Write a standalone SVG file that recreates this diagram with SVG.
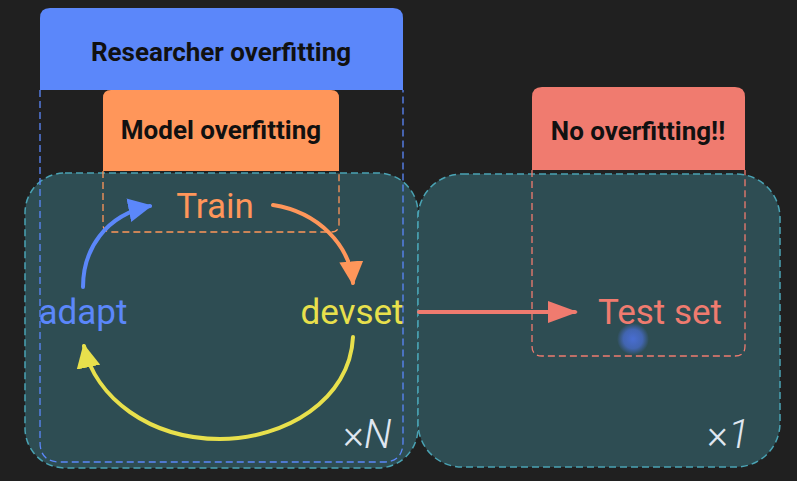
<svg xmlns="http://www.w3.org/2000/svg" width="797" height="481" viewBox="0 0 797 481">
<defs>
<style>
.hdr{font-family:Roboto,"Liberation Sans",sans-serif;font-weight:bold;font-size:26px;fill:#111;text-anchor:middle}
.lbl{font-family:Roboto,"Liberation Sans",sans-serif;font-size:35px;text-anchor:middle}
.mult{font-family:Roboto,"Liberation Sans",sans-serif;font-size:40px;font-weight:300;fill:#dfe6f0}
.zone{fill:#2e4d53;stroke:#4aa3b4;stroke-width:1.5;stroke-dasharray:7 4}
.arc{fill:none;stroke-width:4;stroke-linecap:round}
</style>
<marker id="mBlue" viewBox="0 0 10 10" refX="9" refY="5" markerWidth="6" markerHeight="6" markerUnits="strokeWidth" orient="auto"><path d="M0,0 L10,5 L0,10 Z" fill="#5b87fa"/></marker>
<marker id="mOrange" viewBox="0 0 10 10" refX="9" refY="5" markerWidth="6" markerHeight="6" markerUnits="strokeWidth" orient="auto"><path d="M0,0 L10,5 L0,10 Z" fill="#ff965a"/></marker>
<marker id="mYellow" viewBox="0 0 10 10" refX="9" refY="5" markerWidth="6" markerHeight="6" markerUnits="strokeWidth" orient="auto"><path d="M0,0 L10,5 L0,10 Z" fill="#e8e04c"/></marker>
<marker id="mRed" viewBox="0 0 10 10" refX="9" refY="5" markerWidth="7.5" markerHeight="5.5" markerUnits="strokeWidth" orient="auto" preserveAspectRatio="none"><path d="M0,0 L10,5 L0,10 Z" fill="#f07b6f"/></marker>
<radialGradient id="glow"><stop offset="0" stop-color="#4a6fd8" stop-opacity="0.95"/><stop offset="0.6" stop-color="#4a6fd8" stop-opacity="0.7"/><stop offset="1" stop-color="#4a6fd8" stop-opacity="0"/></radialGradient>
</defs>
<rect width="797" height="481" fill="#202020"/>

<g id="loop-zone"><rect class="zone" x="25" y="173" width="393" height="295" rx="40"/></g>
<g id="test-zone"><rect class="zone" x="418" y="174" width="362" height="293" rx="44"/></g>

<g id="researcher-overfitting">
<path d="M40,90 V442 Q40,462 60,462 H383 Q403,462 403,442 V90" fill="none" stroke="#5b87fa" stroke-width="1.3" stroke-dasharray="7 4"/>
<path d="M40,90 V18 Q40,8 50,8 H393 Q403,8 403,18 V90 Z" fill="#5b87fa"/>
<text class="hdr" x="221" y="61">Researcher overfitting</text>
</g>

<g id="model-overfitting">
<path d="M103,171 V224 Q103,232 111,232 H331 Q339,232 339,224 V171" fill="none" stroke="#ff965a" stroke-width="1.3" stroke-dasharray="7 4"/>
<path d="M103,171 V98 Q103,90 111,90 H331 Q339,90 339,98 V171 Z" fill="#ff965a"/>
<text class="hdr" x="221" y="139">Model overfitting</text>
</g>

<g id="no-overfitting">
<path d="M532,170 V346 Q532,356 542,356 H735 Q745,356 745,346 V170" fill="none" stroke="#f07b6f" stroke-width="1.3" stroke-dasharray="7 4"/>
<path d="M532,170 V97 Q532,87 542,87 H735 Q745,87 745,97 V170 Z" fill="#f07b6f"/>
<text class="hdr" x="638" y="140">No overfitting!!</text>
</g>

<g id="connectors">
<path class="arc" d="M83,287 C83,250 105,215 150,206" stroke="#5b87fa" marker-end="url(#mBlue)"/>
<path class="arc" d="M273,205 C318,212 350,245 353,283" stroke="#ff965a" marker-end="url(#mOrange)"/>
<path class="arc" d="M353,337 C350,400 285,439 220,439 C150,439 95,398 84,346" stroke="#e8e04c" marker-end="url(#mYellow)"/>
<path class="arc" d="M419,312 H575" stroke="#f07b6f" stroke-linecap="butt" marker-end="url(#mRed)"/>
</g>

<g id="train"><text class="lbl" x="215" y="218" fill="#ff965a">Train</text></g>
<g id="adapt"><text class="lbl" x="83" y="324" fill="#5b87fa">adapt</text></g>
<g id="devset"><text class="lbl" x="352" y="324" fill="#e8e04c">devset</text></g>
<g id="test-set"><text class="lbl" x="660" y="324" fill="#f07b6f">Test set</text></g>

<text class="mult" x="343" y="448">×<tspan font-style="italic">N</tspan></text>
<text class="mult" x="707" y="448">×<tspan font-style="italic">1</tspan></text>

<circle cx="633" cy="339" r="16" fill="url(#glow)"/>
</svg>
